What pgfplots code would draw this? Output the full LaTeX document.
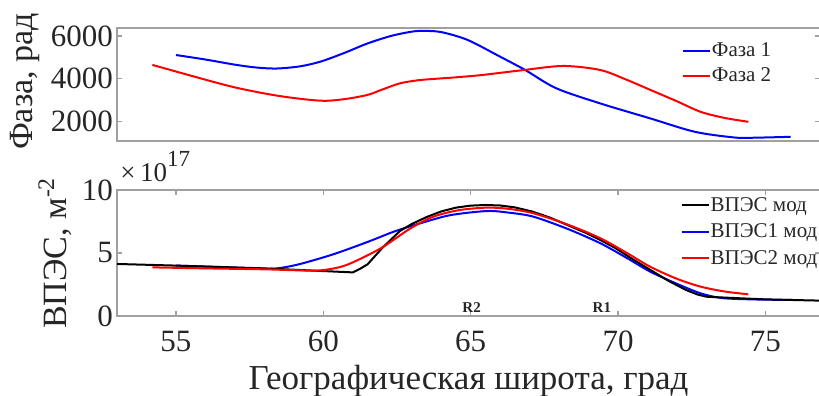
\documentclass[border=0pt]{standalone}
\usepackage{pgfplots}
\pgfplotsset{compat=1.18}
\usepackage{fontspec}
\setmainfont{Liberation Serif}
\definecolor{axgray}{RGB}{160,160,160}
\definecolor{txtgray}{RGB}{38,38,38}
\newcommand{\tickfont}{\fontsize{15.5}{17}\selectfont}
\newcommand{\labfont}{\fontsize{17}{19}\selectfont}
\newcommand{\xlabfont}{\fontsize{17.5}{19}\selectfont}
\pgfplotsset{
  myaxis/.style={
    scale only axis,
    width=351.5pt,
    xmin=53, xmax=76.85,
    clip=false,
    axis line style={axgray, line width=0.6pt},
    tick style={axgray, line width=0.6pt},
    tick align=inside,
    major tick length=2.5pt,
    /pgf/number format/assume math mode=true,
    /pgf/number format/1000 sep={},
    xticklabel style={font=\tickfont, text=txtgray, yshift=-4pt},
    yticklabel style={font=\tickfont, text=txtgray, xshift=1.5pt},
    legend style={draw=none, fill=none, inner sep=0pt, row sep=0pt,
      font=\fontsize{10.5}{12}\selectfont, text=txtgray},
    legend cell align=left,
    legend image code/.code={\draw[#1] (0pt,0pt) -- (13.5pt,0pt);},
    every axis plot/.append style={line width=1pt},
  }
}
\begin{document}
\begin{tikzpicture}
\useasboundingbox (0,0) rectangle (409.5pt,198pt);
% ---------------- top axis ----------------
\begin{axis}[myaxis,
  at={(58.5pt,127.5pt)}, anchor=south west,
  height=56.5pt,
  ymin=1100, ymax=6370,
  ytick={2000,4000,6000},
  xtick=\empty,
  ylabel={\labfont Фаза, рад},
  every axis y label/.style={at={(axis description cs:-0.131,0.527)}, rotate=90, anchor=center, font=\labfont, text=txtgray},
  legend style={at={(rel axis cs:0.803,0.907)}, anchor=north west,
    nodes={inner sep=0.5pt, text height=8.5pt, text depth=3pt}},
]
\addplot[blue, smooth, tension=0.5] coordinates {
(55,5110) (56,4900) (57,4660) (57.7,4530) (58.4,4480) (59.2,4580) (59.9,4800) (60.7,5200)
(61.5,5650) (62.3,6000) (63.0,6200) (63.4,6234) (64.0,6180) (64.9,5810)
(66.0,5030) (66.85,4410) (67.9,3560) (69.4,2850) (71.1,2150) (72.6,1530)
(73.9,1270) (74.5,1250) (75.85,1295)};
\addlegendentry{Фаза 1}
\addplot[red, smooth, tension=0.5] coordinates {
(54.2,4650) (55.5,4150) (57,3600) (58.5,3200) (59.9,2980) (60.7,3050)
(61.5,3250) (62.0,3500) (62.6,3790) (63.2,3930) (63.7,3990) (64.5,4070)
(65.4,4180) (66.8,4410) (68.15,4600) (69.4,4410) (70.3,3950) (71.1,3480)
(72.0,2950) (72.8,2460) (73.6,2180) (74.42,1995)};
\addlegendentry{Фаза 2}
\end{axis}
% ---------------- bottom axis ----------------
\begin{axis}[myaxis,
  at={(58.5pt,40pt)}, anchor=south west,
  height=63pt,
  ymin=0, ymax=10,
  ytick={0,5,10},
  xtick={55,60,65,70,75},
  ylabel={\labfont ВПЭС, м\textsuperscript{-2}},
  xlabel={\xlabfont Географическая широта, град},
  every axis y label/.style={at={(axis description cs:-0.088,0.5)}, rotate=90, anchor=center, font=\labfont, text=txtgray},
  every axis x label/.style={at={(axis description cs:0.5,0)}, anchor=base, yshift=-37pt, font=\xlabfont, text=txtgray},
  legend style={at={(rel axis cs:0.801,0.986)}, anchor=north west,
    nodes={inner sep=0.6pt, text height=9pt, text depth=3pt}},
]
\addlegendimage{black, line width=1pt}
\addlegendimage{blue, line width=1pt}
\addlegendimage{red, line width=1pt}
\legend{ВПЭС мод, ВПЭС1 мод, ВПЭС2 мод}
\addplot[blue, smooth, tension=0.5, forget plot] coordinates {
(55,4.0) (57,3.84) (58.0,3.75) (58.5,3.8) (59.2,4.12) (60.34,4.9) (61.47,5.85) (62.4,6.7)
(63.28,7.35) (64.3,8.0) (65.55,8.33) (66.3,8.2) (67.13,7.88) (68.3,6.9)
(69.4,5.77) (70.3,4.6) (71.09,3.52) (72.0,2.55) (72.8,1.8) (73.5,1.43)
(74.5,1.32) (75.9,1.27)};
\addplot[black, forget plot] coordinates {
(53,4.13) (55,4.0) (58,3.78) (61.0,3.46) (61.25,3.75) (61.5,4.1) (62.0,5.4)
(62.6,6.75) (63.0,7.3) (63.5,7.85) (64.0,8.3) (64.5,8.6) (65.0,8.76)
(65.5,8.81) (66.0,8.77) (66.5,8.62) (67.1,8.28) (67.7,7.8) (68.3,7.2)
(68.9,6.6) (69.4,6.03) (69.9,5.4) (70.5,4.5) (71.1,3.65) (71.7,2.8)
(72.3,2.07) (72.7,1.7) (73.0,1.53) (74.0,1.42) (75.0,1.32) (76.85,1.22)};
\addplot[red, smooth, tension=0.5, forget plot] coordinates {
(54.2,3.86) (56,3.78) (58.08,3.7) (59.66,3.6) (60.3,3.75) (60.79,4.05)
(61.4,4.7) (62.04,5.5) (62.96,6.96) (63.73,7.88) (64.6,8.4) (65.55,8.6)
(66.3,8.5) (67.13,8.15) (68.3,7.25) (69.4,6.17) (70.3,5.0) (71.09,3.91)
(72.0,2.95) (72.8,2.33) (73.6,1.95) (74.42,1.72)};
\node[anchor=base, font=\bfseries\fontsize{7.5}{8}\selectfont, text=txtgray] at (axis cs:65.03,0.3) {R2};
\node[anchor=base, font=\bfseries\fontsize{7.5}{8}\selectfont, text=txtgray] at (axis cs:69.45,0.3) {R1};
\node[anchor=base west, inner sep=0pt, font=\fontsize{13.5}{14}\selectfont, text=txtgray] at (rel axis cs:0,1) [xshift=1.5pt, yshift=4.2pt] {×\,10\raisebox{0.55em}{\fontsize{11.5}{12}\selectfont 17}};
\end{axis}
\end{tikzpicture}
\end{document}
